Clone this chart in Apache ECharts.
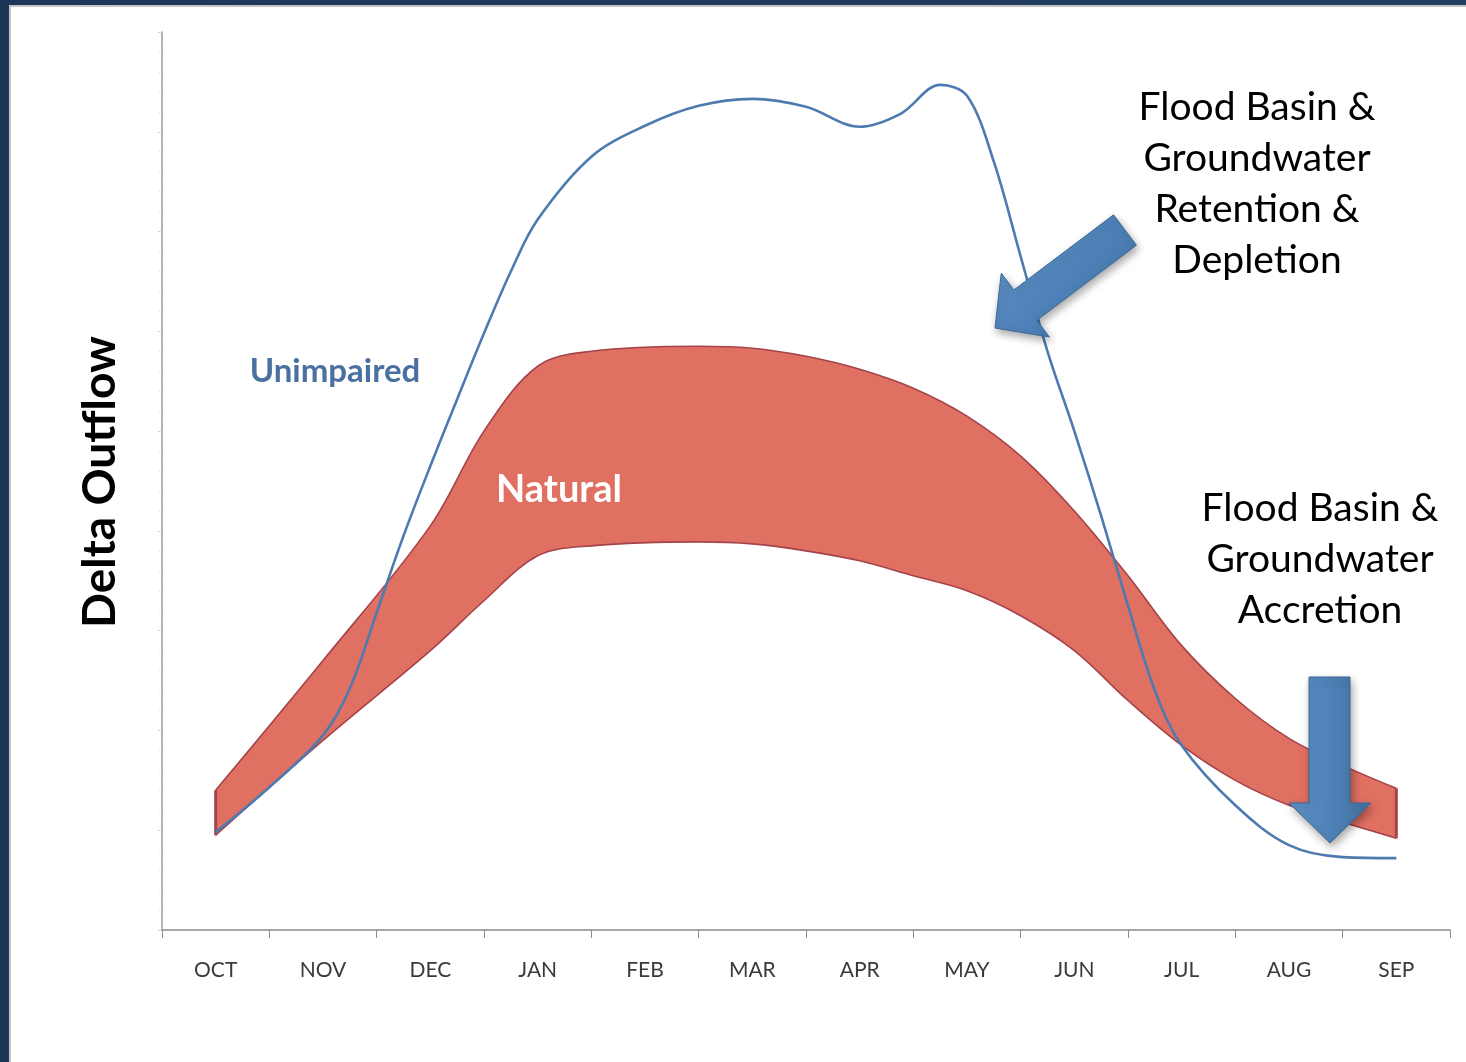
<!DOCTYPE html>
<html>
<head>
<meta charset="utf-8">
<script src="https://cdn.jsdelivr.net/npm/echarts@6/dist/echarts.min.js"></script>
<style>
  html, body { margin: 0; padding: 0; width: 1466px; height: 1062px; overflow: hidden;
    background: linear-gradient(90deg, #1d3658 0%, #223e63 100%); }
  #frame { position: absolute; left: 9px; top: 5px; width: 1455px; height: 1057px;
    background: #ffffff; border-left: 2px solid #c4c4c4; border-top: 2px solid #c4c4c4; border-right: 2px solid #e2e2e2; }
  #chart { position: absolute; left: 0; top: 0; width: 1466px; height: 1062px; }
</style>
</head>
<body>
<div id="frame"></div>
<div id="chart"></div>
<script>
// ---- data ----
const months = ['OCT','NOV','DEC','JAN','FEB','MAR','APR','MAY','JUN','JUL','AUG','SEP'];

// Unimpaired flow: month position (0 = start of OCT, 0.5 = mid OCT) and value
const unimpairedX = [0.5, 1.0, 1.5, 1.75, 2.0, 2.25, 2.5, 2.75, 3.0, 3.25, 3.5, 4.0, 4.5, 5.0, 5.5, 6.0, 6.5, 6.88, 7.25, 7.5, 7.75, 8.0, 8.25, 8.5, 8.75, 9.0, 9.25, 9.5, 10.0, 10.5, 11.0, 11.5];
const unimpairedY = [98, 143, 195, 242, 318, 395, 465, 532, 598, 660, 712, 775, 806, 826, 833, 825, 805, 818, 847, 836, 770, 675, 580, 500, 415, 325, 240, 185, 125, 85, 73, 72];

// Natural range (band): lower and upper bounds
const naturalX     = [0.5, 1.5, 2.5, 3.0, 3.5, 4.0, 5.0, 5.5, 6.0, 6.5, 7.0, 7.5, 8.0, 8.5, 9.0, 9.5, 10.0, 10.5, 11.0, 11.5];
const naturalLower = [95, 190, 280, 330, 375, 385, 389, 387, 380, 370, 355, 340, 315, 280, 230, 185, 150, 125, 108, 92];
const naturalUpper = [140, 270, 405, 500, 565, 580, 585, 583, 575, 562, 543, 515, 475, 420, 355, 285, 232, 192, 165, 142];

const yMin = 0, yMax = 900, yInterval = 100;

// ---- build series data ----
const unimpaired = unimpairedX.map((x, i) => [x, unimpairedY[i]]);
const lowerData = naturalX.map((x, i) => [x, naturalLower[i]]);
const upperData = naturalX.map((x, i) => [x, naturalUpper[i]]);
const last = naturalX.length - 1;
const leftEdge = [[naturalX[0], naturalLower[0]], [naturalX[0], naturalUpper[0]]];
const rightEdge = [[naturalX[last], naturalLower[last]], [naturalX[last], naturalUpper[last]]];
const leftClean = [[naturalX[0], yMin], [naturalX[0], naturalLower[0] - 3]];
const rightClean = [[naturalX[last], yMin], [naturalX[last], naturalLower[last] - 3]];

const bandFill = '#e07062';
const bandEdge = '#a4444a';
const blue = '#4d7bb0';
const FONT = 'Lato, "Open Sans", sans-serif';

function arrowGradient() {
  return new echarts.graphic.LinearGradient(0, 0, 1, 1, [
    { offset: 0, color: '#6496cc' },
    { offset: 0.5, color: '#4f82b9' },
    { offset: 1, color: '#3f6f9f' }
  ]);
}

// diagonal arrow geometry (annotation, pixel space)
function diagArrow(tail, tip, halfShaft, halfHead, headLen) {
  const dx = tip[0] - tail[0], dy = tip[1] - tail[1];
  const L = Math.hypot(dx, dy);
  const ux = dx / L, uy = dy / L;
  const nx = -uy, ny = ux;
  const B = [tip[0] - headLen * ux, tip[1] - headLen * uy];
  return [
    [tail[0] - halfShaft * nx, tail[1] - halfShaft * ny],
    [tail[0] + halfShaft * nx, tail[1] + halfShaft * ny],
    [B[0] + halfShaft * nx, B[1] + halfShaft * ny],
    [B[0] + halfHead * nx, B[1] + halfHead * ny],
    tip,
    [B[0] - halfHead * nx, B[1] - halfHead * ny],
    [B[0] - halfShaft * nx, B[1] - halfShaft * ny]
  ];
}

const chart = echarts.init(document.getElementById('chart'), null, { renderer: 'canvas' });

const option = {
  backgroundColor: 'transparent',
  animation: false,
  grid: { left: 162, right: 16, top: 32, bottom: 132, containLabel: false },
  xAxis: [
    {
      type: 'category', data: months, boundaryGap: true, z: 10,
      axisLine: { show: true, lineStyle: { color: '#8c8c8c', width: 1.5 } },
      axisTick: { show: true, length: 8, lineStyle: { color: '#8c8c8c' } },
      axisLabel: { color: '#3a3a3a', fontSize: 21, fontFamily: FONT, margin: 30 },
      splitLine: { show: false }
    },
    {
      type: 'value', min: 0, max: 12, show: false, splitLine: { show: false }
    }
  ],
  yAxis: {
    type: 'value', min: yMin, max: yMax, interval: yInterval, z: 10,
    axisLine: { show: true, lineStyle: { color: '#9a9a9a', width: 1.5 } },
    axisTick: { show: true, length: 4, lineStyle: { color: '#cfcfcf' } },
    minorTick: { show: true, splitNumber: 5, length: 3, lineStyle: { color: '#dcdcdc' } },
    axisLabel: { show: false },
    splitLine: { show: false }
  },
  series: [
    {
      name: 'Natural', type: 'line', xAxisIndex: 1,
      data: upperData, smooth: 0.35, symbol: 'none',
      lineStyle: { color: bandEdge, width: 1.6 },
      areaStyle: { color: bandFill, opacity: 1 }, z: 2
    },
    {
      name: 'NaturalLower', type: 'line', xAxisIndex: 1,
      data: lowerData, smooth: 0.35, symbol: 'none',
      lineStyle: { color: bandEdge, width: 1.6 },
      areaStyle: { color: '#ffffff', opacity: 1 }, z: 3
    },
    {
      name: 'cleanL', type: 'line', xAxisIndex: 1, data: leftClean, symbol: 'none',
      lineStyle: { color: '#ffffff', width: 4 }, z: 3
    },
    {
      name: 'cleanR', type: 'line', xAxisIndex: 1, data: rightClean, symbol: 'none',
      lineStyle: { color: '#ffffff', width: 4 }, z: 3
    },
    {
      name: 'edgeL', type: 'line', xAxisIndex: 1, data: leftEdge, symbol: 'none',
      lineStyle: { color: bandEdge, width: 3 }, z: 3
    },
    {
      name: 'edgeR', type: 'line', xAxisIndex: 1, data: rightEdge, symbol: 'none',
      lineStyle: { color: bandEdge, width: 3 }, z: 3
    },
    {
      name: 'Unimpaired', type: 'line', xAxisIndex: 1, data: unimpaired,
      smooth: 0.35, symbol: 'none',
      lineStyle: { color: blue, width: 2.6 }, z: 4
    }
  ],
  graphic: [
    { type: 'text', rotation: Math.PI / 2, x: 100, y: 482,
      style: { text: 'Delta Outflow', font: 'bold 46px ' + FONT, fill: '#000', align: 'center', verticalAlign: 'middle' } },
    { type: 'text', x: 335, y: 371,
      style: { text: 'Unimpaired', font: 'bold 33px ' + FONT, fill: '#4a70a0', align: 'center', verticalAlign: 'middle' }, z: 10 },
    { type: 'text', x: 559, y: 490,
      style: { text: 'Natural', font: 'bold 38px ' + FONT, fill: '#ffffff', align: 'center', verticalAlign: 'middle' }, z: 10 },
    { type: 'text', x: 1257, y: 184,
      style: { text: 'Flood Basin &\nGroundwater\nRetention &\nDepletion', font: '39px ' + FONT, lineHeight: 51,
        fill: '#000', align: 'center', verticalAlign: 'middle' }, z: 10 },
    { type: 'text', x: 1320, y: 559,
      style: { text: 'Flood Basin &\nGroundwater\nAccretion', font: '39px ' + FONT, lineHeight: 51,
        fill: '#000', align: 'center', verticalAlign: 'middle' }, z: 10 },
    { type: 'polygon', z: 20,
      shape: { points: diagArrow([1125, 230], [995, 328], 19, 40, 38) },
      style: { fill: arrowGradient(), stroke: '#3b6894', lineWidth: 1,
        shadowBlur: 8, shadowColor: 'rgba(0,0,0,0.35)', shadowOffsetX: 2, shadowOffsetY: 4 } },
    { type: 'polygon', z: 20,
      shape: { points: [[1309, 677], [1350, 677], [1350, 803], [1371, 803], [1330, 843], [1289, 803], [1309, 803]] },
      style: { fill: new echarts.graphic.LinearGradient(0, 0, 1, 0, [
          { offset: 0, color: '#5f93c9' }, { offset: 0.5, color: '#4f82b9' }, { offset: 1, color: '#41719f' }]),
        stroke: '#3b6894', lineWidth: 1,
        shadowBlur: 8, shadowColor: 'rgba(0,0,0,0.35)', shadowOffsetX: 2, shadowOffsetY: 4 } }
  ]
};
chart.setOption(option);
</script>
</body>
</html>
